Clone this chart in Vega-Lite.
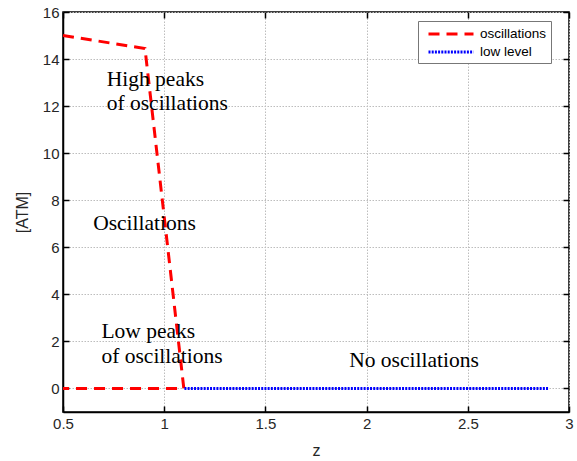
{
  "$schema": "https://vega.github.io/schema/vega-lite/v6.json",
  "width": 506,
  "height": 400,
  "autosize": {"type": "none"},
  "padding": {"left": 63, "top": 12, "right": 8, "bottom": 49},
  "background": "white",
  "config": {
    "view": {"stroke": "#000000", "strokeWidth": 1.5},
    "axis": {
      "labelFont": "Liberation Sans",
      "labelFontSize": 15,
      "labelColor": "#262626",
      "titleFont": "Liberation Sans",
      "titleFontSize": 16,
      "titleFontWeight": "normal",
      "titleColor": "#262626",
      "domainColor": "#000000",
      "domainWidth": 1.5,
      "tickColor": "#000000",
      "tickWidth": 1.5,
      "tickSize": -6,
      "labelPadding": 10,
      "gridColor": "#bdbdbd",
      "gridDash": [1.5, 1.5],
      "gridWidth": 1
    }
  },
  "datasets": {
    "lines": [
      {"series": "oscillations", "i": 0, "z": 0.5, "v": 15},
      {"series": "oscillations", "i": 1, "z": 0.905, "v": 14.45},
      {"series": "oscillations", "i": 2, "z": 1.097, "v": 0},
      {"series": "oscillations", "i": 3, "z": 0.5, "v": 0},
      {"series": "low level", "i": 0, "z": 1.1, "v": 0},
      {"series": "low level", "i": 1, "z": 2.9, "v": 0}
    ],
    "notes": [
      {"label": "High peaks", "z": 0.716, "v": 13.1},
      {"label": "of oscillations", "z": 0.716, "v": 12.1},
      {"label": "Oscillations", "z": 0.649, "v": 7.0},
      {"label": "Low peaks", "z": 0.69, "v": 2.4},
      {"label": "of oscillations", "z": 0.69, "v": 1.35},
      {"label": "No oscillations", "z": 1.914, "v": 1.15}
    ]
  },
  "layer": [
    {
      "data": {"name": "lines"},
      "mark": {"type": "line", "strokeWidth": 3, "strokeCap": "butt"},
      "encoding": {
        "x": {
          "field": "z", "type": "quantitative",
          "scale": {"domain": [0.5, 3], "nice": false, "zero": false},
          "axis": {"values": [0.5, 1, 1.5, 2, 2.5, 3], "title": "z", "titlePadding": 11, "format": "~g", "labelFlush": false}
        },
        "y": {
          "field": "v", "type": "quantitative",
          "scale": {"domain": [-1, 16], "nice": false, "zero": false},
          "axis": {"values": [0, 2, 4, 6, 8, 10, 12, 14, 16], "title": "[ATM]", "titlePadding": 12, "labelFlush": false}
        },
        "order": {"field": "i"},
        "color": {
          "field": "series", "type": "nominal",
          "scale": {"domain": ["oscillations", "low level"], "range": ["#ff0000", "#0000ff"]},
          "legend": {
            "title": null,
            "orient": "none",
            "legendX": 355,
            "legendY": 9,
            "symbolType": "M-3,0H3",
            "symbolSize": 225,
            "symbolOffset": 20,
            "labelOffset": 20,
            "symbolStrokeWidth": 3,
            "labelFont": "Liberation Sans",
            "labelFontSize": 13.5,
            "labelColor": "#000000",
            "fillColor": "#ffffff",
            "strokeColor": "#777777",
            "padding": 4,
            "rowPadding": 2
          }
        },
        "strokeDash": {
          "field": "series", "type": "nominal",
          "scale": {"domain": ["oscillations", "low level"], "range": [[11, 7], [2, 1.2]]},
          "legend": null
        }
      }
    },
    {
      "data": {"name": "notes"},
      "mark": {"type": "text", "align": "left", "baseline": "middle", "font": "Liberation Serif", "fontSize": 21.5, "color": "#000000"},
      "encoding": {
        "x": {"field": "z", "type": "quantitative", "axis": {"orient": "top", "values": [0.5, 1, 1.5, 2, 2.5, 3], "labels": false, "title": null, "grid": false, "domain": false}},
        "y": {"field": "v", "type": "quantitative", "axis": {"orient": "right", "values": [0, 2, 4, 6, 8, 10, 12, 14, 16], "labels": false, "title": null, "grid": false, "domain": false}},
        "text": {"field": "label"}
      }
    }
  ],
  "resolve": {"axis": {"x": "independent", "y": "independent"}}
}
